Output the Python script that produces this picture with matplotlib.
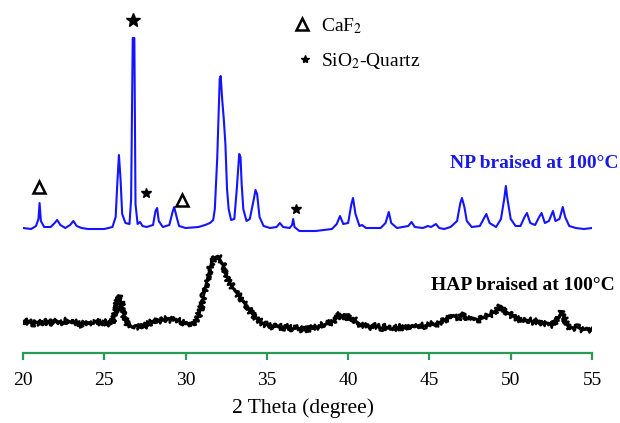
import numpy as np
import matplotlib.pyplot as plt

plt.rcParams['font.family'] = ['Liberation Serif', 'DejaVu Serif']
plt.rcParams['mathtext.fontset'] = 'stix'

# NP pattern: 2-theta (deg) and intensity above its own baseline (a.u.)
np_theta = [20.0, 20.5, 20.8, 20.95, 21.02, 21.1, 21.3, 21.7, 21.95, 22.1, 22.3, 22.6,
            22.9, 23.1, 23.3, 23.6, 24.0, 25.0, 25.5, 25.7, 25.8, 25.9, 26.0, 26.1,
            26.3, 26.55, 26.65, 26.75, 26.85, 26.92, 27.05, 27.2, 27.35, 27.6, 28.0, 28.15,
            28.25, 28.35, 28.6, 29.0, 29.2, 29.3, 29.45, 29.6, 30.0, 30.8, 31.2, 31.5,
            31.7, 31.8, 31.95, 32.1, 32.16, 32.25, 32.35, 32.45, 32.55, 32.65, 32.8, 33.0,
            33.15, 33.3, 33.38, 33.45, 33.55, 33.75, 33.95, 34.2, 34.3, 34.4, 34.55, 34.8,
            35.2, 35.6, 35.8, 36.0, 36.4, 36.55, 36.62, 36.7, 37.0, 38.0, 39.0, 39.3,
            39.5, 39.7, 40.0, 40.2, 40.3, 40.45, 40.7, 40.85, 41.1, 42.0, 42.3, 42.5,
            42.65, 43.0, 43.7, 43.9, 44.1, 44.6, 44.9, 45.1, 45.4, 45.6, 45.9, 46.3,
            46.7, 46.9, 47.0, 47.15, 47.3, 47.6, 48.1, 48.4, 48.5, 48.7, 49.1, 49.4,
            49.6, 49.7, 49.8, 50.0, 50.3, 50.6, 50.85, 51.0, 51.2, 51.5, 51.75, 51.9,
            52.1, 52.35, 52.6, 52.75, 53.0, 53.2, 53.35, 53.6, 54.0, 54.5, 55.0]
np_int = [1, 0, 3, 10, 26, 8, 2, 2, 6, 9, 4, 1,
          4, 8, 3, 1, 0, 0, 2, 12, 45, 74, 50, 15,
          6, 5, 30, 191, 191, 25, 5, 7, 3, 2, 4, 18,
          21, 8, 2, 4, 17, 22, 12, 3, 1, 2, 4, 6,
          9, 20, 72, 150, 153, 130, 110, 85, 40, 20, 9, 10,
          40, 75, 72, 45, 20, 8, 10, 30, 39, 35, 12, 3,
          1, 2, 6, 2, 1, 4, 10, 2, -2, -2, 0, 5,
          13, 5, 6, 25, 31, 15, 3, 4, 1, 1, 6, 17,
          6, 1, 3, 7, 2, 1, 3, 2, 5, 1, 0, 2,
          8, 26, 31, 22, 8, 2, 3, 12, 15, 6, 2, 10,
          30, 43, 30, 10, 3, 3, 12, 16, 6, 4, 12, 16,
          6, 8, 18, 8, 10, 22, 12, 3, 1, 0, 1]
np_offset = 124

# HAP pattern (absolute intensity, a.u.)
hap_theta = [20.0, 20.3, 20.6, 20.9, 21.2, 21.5, 21.8, 22.1, 22.4, 22.7, 23.0, 23.3,
             23.6, 23.9, 24.2, 24.5, 24.8, 25.1, 25.4, 25.6, 25.75, 25.9, 26.05, 26.2,
             26.4, 26.7, 27.0, 27.3, 27.6, 27.9, 28.2, 28.5, 28.8, 29.1, 29.4, 29.7,
             30.0, 30.3, 30.6, 30.8, 31.0, 31.2, 31.4, 31.6, 31.8, 32.0, 32.2, 32.4,
             32.6, 32.8, 33.0, 33.2, 33.4, 33.6, 33.8, 34.0, 34.2, 34.5, 34.8, 35.1,
             35.4, 35.7, 36.0, 36.3, 36.6, 36.9, 37.2, 37.5, 37.8, 38.1, 38.4, 38.7,
             39.0, 39.3, 39.5, 39.7, 39.9, 40.1, 40.3, 40.5, 40.8, 41.1, 41.4, 41.7,
             42.0, 42.3, 42.6, 42.9, 43.2, 43.5, 43.8, 44.1, 44.4, 44.7, 45.0, 45.3,
             45.6, 45.9, 46.2, 46.5, 46.8, 47.1, 47.4, 47.7, 48.0, 48.3, 48.6, 48.9,
             49.2, 49.4, 49.6, 49.9, 50.2, 50.5, 50.8, 51.1, 51.4, 51.7, 52.0, 52.3,
             52.6, 52.9, 53.1, 53.3, 53.5, 53.8, 54.1, 54.4, 54.7, 55.0]
hap_int = [30, 32, 29, 31, 28, 32, 30, 32, 29, 33, 30, 31,
           28, 31, 29, 32, 30, 31, 29, 35, 48, 57, 50, 38,
           29, 26, 27, 25, 28, 31, 34, 32, 35, 33, 34, 31,
           29, 30, 31, 37, 48, 65, 78, 91, 95, 97, 91, 85,
           73, 68, 63, 59, 55, 50, 47, 41, 37, 33, 29, 28,
           26, 27, 25, 26, 24, 25, 23, 24, 25, 26, 28, 29,
           31, 35, 39, 34, 38, 33, 35, 31, 28, 27, 26, 27,
           25, 26, 24, 25, 26, 25, 27, 26, 28, 27, 29, 28,
           30, 33, 35, 37, 35, 38, 34, 35, 33, 35, 37, 40,
           44, 47, 43, 39, 36, 34, 32, 33, 31, 32, 29, 30,
           28, 33, 41, 35, 27, 25, 26, 23, 24, 23]

# peak markers: (2-theta, height)
caf2_theta = [21.0, 29.75]
caf2_y = [166, 153]
quartz_theta = [26.75, 27.55, 36.8]
quartz_y = [333, 160, 144]

fig = plt.figure(figsize=(6.2, 4.23), dpi=100)
ax = fig.add_axes([23 / 620, 70 / 423, 569 / 620, 353 / 423])

ax.plot(np_theta, np.array(np_int) + np_offset, color='#1414ff', lw=1.5)
# noisy-looking counting trace for the HAP scan
rough, = ax.plot(hap_theta, hap_int, color='black', lw=1.8)
rough.set_sketch_params(3.0, 1.2, 2.0)
ax.plot(hap_theta, hap_int, color='black', lw=2.0)

ax.plot(caf2_theta, caf2_y, linestyle='none', marker='^', ms=9,
        mfc='none', mec='black', mew=1.8)
ax.plot(quartz_theta[:1], quartz_y[:1], linestyle='none', marker='*', ms=10, color='black')
ax.plot(quartz_theta[1:], quartz_y[1:], linestyle='none', marker='*', ms=7, color='black')

# key for the phase markers
ax.plot([37.15], [329], linestyle='none', marker='^', ms=9, mfc='none', mec='black',
        mew=1.8, clip_on=False)
ax.plot([37.35], [294], linestyle='none', marker='*', ms=6, color='black')
ax.text(38.35, 327, r'CaF$_2$', fontsize=14, va='center', ha='left')
ax.text(38.35, 292, r'SiO$_2$-Quartz', fontsize=14, va='center', ha='left')

ax.text(56.6, 190, 'NP braised at 100°C', color='#1a1ae6', fontsize=14,
        fontweight='bold', ha='right', va='center')
ax.text(56.4, 68, 'HAP braised at 100°C', color='black', fontsize=14,
        fontweight='bold', ha='right', va='center')

ax.set_xlim(20, 55)
ax.set_ylim(0, 353)
ax.set_xticks(range(20, 56, 5))
for side in ['left', 'right', 'top']:
    ax.spines[side].set_visible(False)
ax.spines['bottom'].set_color('#2a9a55')
ax.spines['bottom'].set_linewidth(1.6)
ax.set_yticks([])
ax.tick_params(axis='x', direction='out', length=5, width=1.6, color='#2a9a55',
               labelsize=14, pad=9)
ax.patch.set_alpha(0)

fig.text(303 / 620, 1 - 408 / 423, '2 Theta (degree)', fontsize=15.5,
         ha='center', va='center')

fig.savefig('out.png', dpi=100)
